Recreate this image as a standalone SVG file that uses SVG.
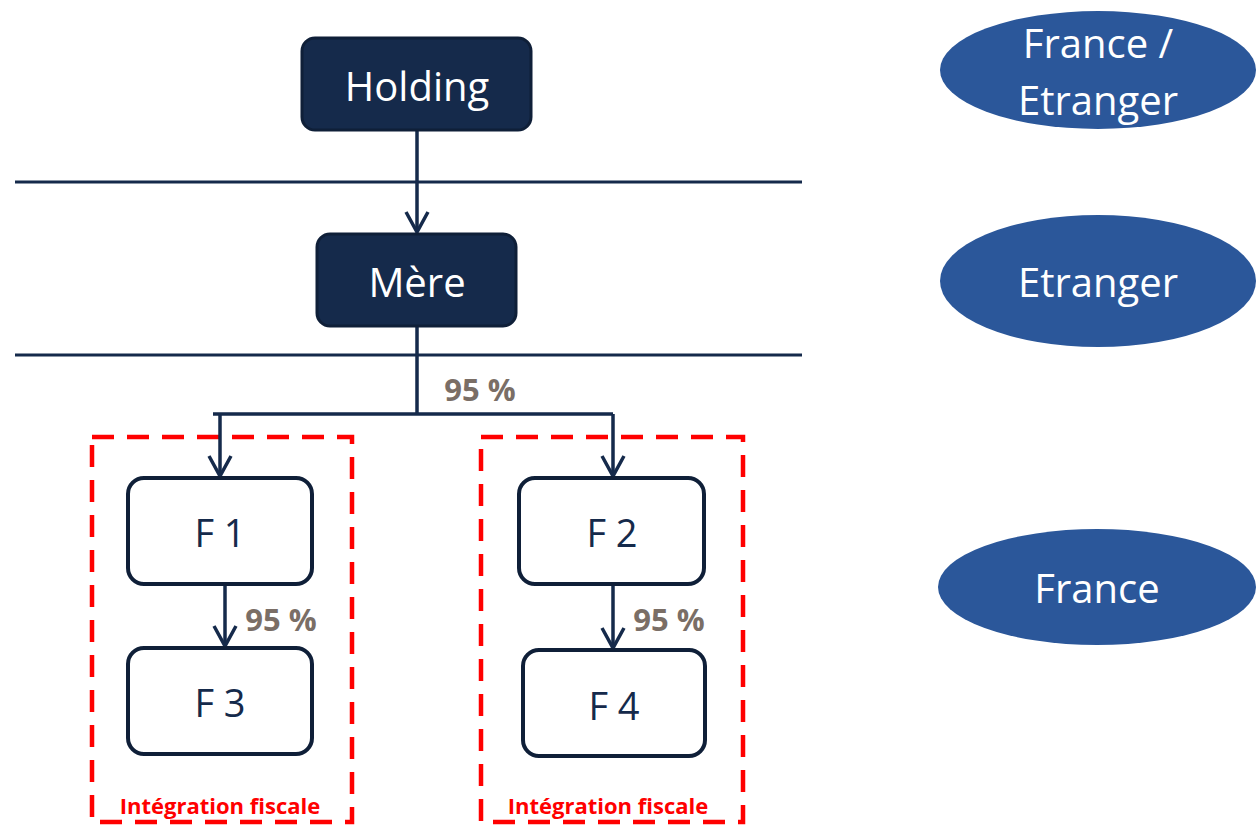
<svg xmlns="http://www.w3.org/2000/svg" width="1257" height="825" viewBox="0 0 1257 825">
<style>
text{font-family:"Open Sans","Liberation Sans",sans-serif;text-anchor:middle;dominant-baseline:central}
.dark rect{fill:#152a4b;stroke:#0f1f38;stroke-width:3}
.dark text{fill:#fff;font-size:40px}
.white rect{fill:#fff;stroke:#0f1f38;stroke-width:4}
.white text{fill:#152a4b;font-size:38px}
.ell ellipse{fill:#2b579a}
.ell text{fill:#fff;font-size:40px}
.pct{fill:#7a6e66;font-size:31px;font-weight:bold}
.fisc{fill:#ff0000;font-size:22px;font-weight:bold}
.conn{fill:none;stroke:#152a4b;stroke-width:3.5}
.sep{stroke:#152a4b;stroke-width:3}
.dash{fill:none;stroke:#ff0000;stroke-width:4.5;stroke-dasharray:22 13}
</style>
<g id="separators">
<line class="sep" x1="15" y1="182" x2="802" y2="182"/>
<line class="sep" x1="15" y1="355" x2="802" y2="355"/>
</g>
<g id="groups">
<rect class="dash" x="92" y="437" width="260" height="385"/>
<text class="fisc" x="220" y="805">Intégration fiscale</text>
<rect class="dash" x="481" y="437" width="262" height="385"/>
<text class="fisc" x="608" y="805">Intégration fiscale</text>
</g>
<g id="connectors">
<path class="conn" d="M417 130 V232"/>
<path class="conn" d="M406 212 L417 232 L428 212"/>
<path class="conn" d="M417 326 V414 M213 414 H613 M220 414 V476 M613 414 V476"/>
<path class="conn" d="M209 456 L220 476 L231 456"/>
<path class="conn" d="M602 456 L613 476 L624 456"/>
<path class="conn" d="M225 584 V646"/>
<path class="conn" d="M214 626 L225 646 L236 626"/>
<path class="conn" d="M613 584 V648"/>
<path class="conn" d="M602 628 L613 648 L624 628"/>
<text class="pct" x="480" y="389">95 %</text>
<text class="pct" x="281" y="619">95 %</text>
<text class="pct" x="669" y="619">95 %</text>
</g>
<g id="holding" class="dark">
<rect x="302" y="38" width="229" height="92" rx="13"/>
<text x="417" y="85">Holding</text>
</g>
<g id="mere" class="dark">
<rect x="317" y="234" width="199" height="92" rx="13"/>
<text x="417" y="281">Mère</text>
</g>
<g id="f1" class="white">
<rect x="128" y="478" width="184" height="106" rx="16"/>
<text x="220" y="532">F 1</text>
</g>
<g id="f2" class="white">
<rect x="519" y="478" width="185" height="106" rx="16"/>
<text x="612" y="532">F 2</text>
</g>
<g id="f3" class="white">
<rect x="128" y="648" width="184" height="106" rx="16"/>
<text x="220" y="702">F 3</text>
</g>
<g id="f4" class="white">
<rect x="523" y="650" width="182" height="106" rx="16"/>
<text x="614" y="705">F 4</text>
</g>
<g id="france-etranger" class="ell">
<ellipse cx="1098" cy="70" rx="158" ry="59"/>
<text x="1098" y="42">France /</text>
<text x="1098" y="99">Etranger</text>
</g>
<g id="etranger" class="ell">
<ellipse cx="1098" cy="281" rx="158" ry="66"/>
<text x="1098" y="281">Etranger</text>
</g>
<g id="france" class="ell">
<ellipse cx="1097" cy="587" rx="159" ry="58"/>
<text x="1097" y="587">France</text>
</g>
</svg>
